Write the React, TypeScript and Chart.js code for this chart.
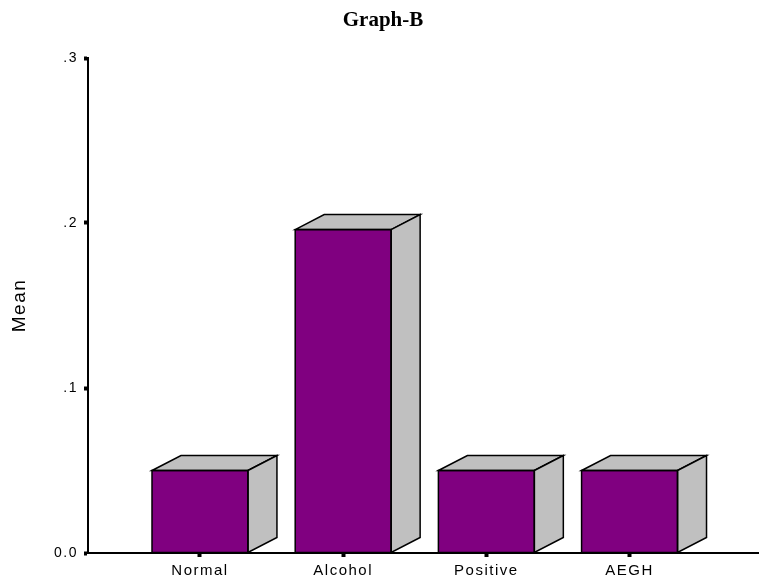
import { useEffect, useRef } from "react";
import { Chart, registerables } from "chart.js";

Chart.register(...registerables);

// Group means
const groups = ["Normal", "Alcohol", "Positive", "AEGH"];
const means = [0.05, 0.196, 0.05, 0.05];

// Value axis
const yTickValues = [0, 0.1, 0.2, 0.3];
const yTickLabels = ["0.0", ".1", ".2", ".3"];

const chartTitle = "Graph-B";
const yAxisTitle = "Mean";

const FRONT_COLOR = "#800080";
const SHADE_COLOR = "#c0c0c0";
const DEPTH_X = 29;
const DEPTH_Y = 15;
const SANS = "'Liberation Sans', Arial, sans-serif";
const SERIF = "'Liberation Serif', 'Times New Roman', serif";

// Spaced-out lettering for axis text
const textSpacing = {
  id: "textSpacing",
  beforeUpdate(chart: any) {
    chart.ctx.letterSpacing = "1.5px";
  },
  beforeDraw(chart: any) {
    chart.ctx.letterSpacing = "1.5px";
  },
};

// Grey top and side faces that turn each bar into a box
const boxFaces = {
  id: "boxFaces",
  afterDatasetsDraw(chart: any) {
    const ctx = chart.ctx;
    const meta = chart.getDatasetMeta(0);
    ctx.save();
    ctx.lineWidth = 1.5;
    ctx.strokeStyle = "#000";
    ctx.fillStyle = SHADE_COLOR;
    ctx.lineJoin = "miter";
    meta.data.forEach((el: any) => {
      const { x, y, base, width } = el.getProps(["x", "y", "base", "width"], true);
      const l = x - width / 2;
      const r = x + width / 2;
      // top face
      ctx.beginPath();
      ctx.moveTo(l, y);
      ctx.lineTo(l + DEPTH_X, y - DEPTH_Y);
      ctx.lineTo(r + DEPTH_X, y - DEPTH_Y);
      ctx.lineTo(r, y);
      ctx.closePath();
      ctx.fill();
      ctx.stroke();
      // side face
      ctx.beginPath();
      ctx.moveTo(r, y);
      ctx.lineTo(r + DEPTH_X, y - DEPTH_Y);
      ctx.lineTo(r + DEPTH_X, base - DEPTH_Y);
      ctx.lineTo(r, base);
      ctx.closePath();
      ctx.fill();
      ctx.stroke();
      // front outline
      ctx.strokeRect(l, y, width, base - y);
    });
    ctx.restore();
  },
};

const heading = {
  id: "heading",
  afterDraw(chart: any) {
    const ctx = chart.ctx;
    ctx.save();
    ctx.letterSpacing = "0px";
    ctx.font = `bold 21px ${SERIF}`;
    ctx.fillStyle = "#000";
    ctx.textAlign = "center";
    ctx.textBaseline = "alphabetic";
    ctx.fillText(chartTitle, 383, 26);
    ctx.restore();
  },
};

export default function App() {
  const canvasRef = useRef<HTMLCanvasElement | null>(null);

  useEffect(() => {
    const canvas = canvasRef.current;
    if (!canvas) return;
    const chart = new Chart(canvas, {
      type: "bar",
      data: {
        datasets: [
          {
            label: yAxisTitle,
            data: groups.map((_, i) => ({ x: i + 1, y: means[i] })),
            backgroundColor: FRONT_COLOR,
            borderWidth: 0,
            categoryPercentage: 1,
            barPercentage: 0.67,
          },
        ],
      },
      options: {
        animation: false,
        responsive: false,
        devicePixelRatio: 1,
        layout: { padding: { top: 58, left: 0, right: 0, bottom: 0 } },
        plugins: {
          legend: { display: false },
          tooltip: { enabled: false },
          title: { display: false },
        },
        scales: {
          x: {
            type: "linear",
            offset: false,
            min: 0.218,
            max: 4.904,
            afterBuildTicks: (s: any) => {
              s.ticks = groups.map((_, i) => ({ value: i + 1 }));
            },
            afterFit: (s: any) => {
              s.height = 29;
            },
            ticks: {
              autoSkip: false,
              maxRotation: 0,
              padding: 5,
              color: "#000",
              font: { family: SANS, size: 15 },
              callback: (v: any) => groups[Math.round(Number(v)) - 1] ?? "",
            },
            grid: {
              offset: false,
              drawOnChartArea: false,
              drawTicks: true,
              tickLength: 4,
              tickWidth: 4,
              tickColor: "#000",
              color: "#000",
            },
            border: { display: true, color: "#000", width: 2 },
          },
          y: {
            type: "linear",
            min: 0,
            max: 0.3,
            afterBuildTicks: (s: any) => {
              s.ticks = yTickValues.map((v) => ({ value: v }));
            },
            afterFit: (s: any) => {
              s.width = 88;
            },
            ticks: {
              autoSkip: false,
              padding: 6,
              color: "#000",
              font: { family: SANS, size: 14 },
              callback: (_v: any, i: number) => yTickLabels[i],
            },
            grid: {
              drawOnChartArea: false,
              drawTicks: true,
              tickLength: 4,
              tickWidth: 4,
              tickColor: "#000",
              color: "#000",
            },
            border: { display: true, color: "#000", width: 2 },
            title: {
              display: true,
              text: yAxisTitle,
              color: "#000",
              font: { family: SANS, size: 19 },
              padding: { top: 8, bottom: 0 },
            },
          },
        },
      },
      plugins: [textSpacing, boxFaces, heading],
    } as any);
    return () => chart.destroy();
  }, []);

  return (
    <div style={{ position: "fixed", left: 0, top: 0, width: 759, height: 582, background: "#fff" }}>
      <canvas ref={canvasRef} width={759} height={582} style={{ display: "block" }} />
    </div>
  );
}
